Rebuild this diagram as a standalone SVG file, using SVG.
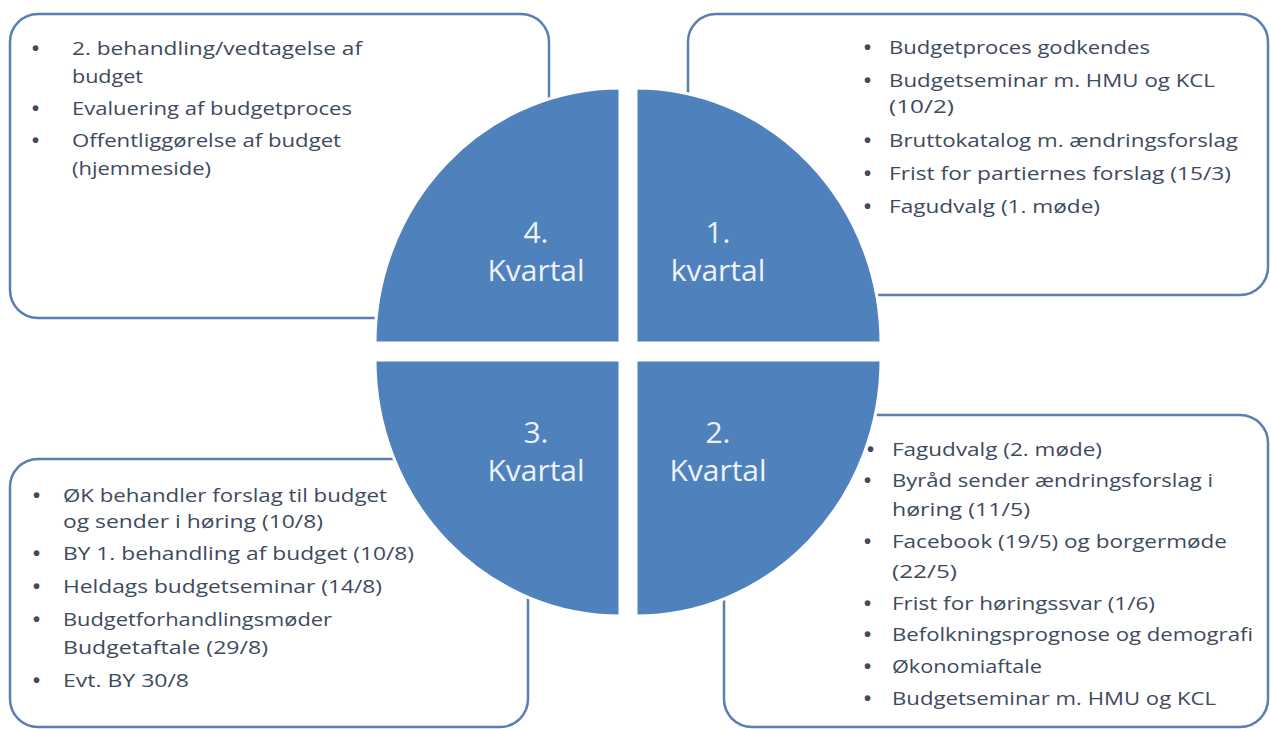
<svg xmlns="http://www.w3.org/2000/svg" width="1271" height="729" viewBox="0 0 1271 729">
<style>
.box{fill:#ffffff;stroke:#5a7db3;stroke-width:2.5}
.q{fill:#4f81bd;stroke:#ffffff;stroke-width:3}
.t{font-family:"Open Sans","Liberation Sans",sans-serif;font-size:19px;fill:#3e4a5e}
.b{font-family:"Liberation Sans",sans-serif;font-size:20px;font-weight:bold;fill:#3e4a5e}
.ql{font-family:"Open Sans","Liberation Sans",sans-serif;font-size:30px;fill:#eef3fa;text-anchor:middle}
</style>
<rect width="1271" height="729" fill="#ffffff"/>
<g id="box-q4">
<rect class="box" x="10" y="14" width="539" height="304" rx="28"/>
<text class="b" x="32" y="55">•</text>
<text class="b" x="32" y="115">•</text>
<text class="b" x="32" y="147">•</text>
<text class="t" x="72" y="55" textLength="290" lengthAdjust="spacingAndGlyphs">2. behandling/vedtagelse af</text>
<text class="t" x="72" y="83" textLength="71" lengthAdjust="spacingAndGlyphs">budget</text>
<text class="t" x="72" y="115" textLength="280" lengthAdjust="spacingAndGlyphs">Evaluering af budgetproces</text>
<text class="t" x="72" y="147" textLength="269" lengthAdjust="spacingAndGlyphs">Offentliggørelse af budget</text>
<text class="t" x="72" y="175" textLength="139" lengthAdjust="spacingAndGlyphs">(hjemmeside)</text>
</g>
<g id="box-q1">
<rect class="box" x="688" y="14" width="580" height="281" rx="28"/>
<text class="b" x="864" y="54">•</text>
<text class="b" x="864" y="87">•</text>
<text class="b" x="864" y="147">•</text>
<text class="b" x="864" y="180">•</text>
<text class="b" x="864" y="213">•</text>
<text class="t" x="889" y="54" textLength="261" lengthAdjust="spacingAndGlyphs">Budgetproces godkendes</text>
<text class="t" x="889" y="87" textLength="326" lengthAdjust="spacingAndGlyphs">Budgetseminar m. HMU og KCL</text>
<text class="t" x="889" y="113" textLength="65" lengthAdjust="spacingAndGlyphs">(10/2)</text>
<text class="t" x="889" y="147" textLength="349" lengthAdjust="spacingAndGlyphs">Bruttokatalog m. ændringsforslag</text>
<text class="t" x="889" y="180" textLength="342" lengthAdjust="spacingAndGlyphs">Frist for partiernes forslag (15/3)</text>
<text class="t" x="889" y="213" textLength="211" lengthAdjust="spacingAndGlyphs">Fagudvalg (1. møde)</text>
</g>
<g id="box-q3">
<rect class="box" x="10" y="459" width="518" height="268" rx="28"/>
<text class="b" x="33" y="502">•</text>
<text class="b" x="33" y="560">•</text>
<text class="b" x="33" y="593">•</text>
<text class="b" x="33" y="626">•</text>
<text class="b" x="33" y="687">•</text>
<text class="t" x="63" y="502" textLength="324" lengthAdjust="spacingAndGlyphs">ØK behandler forslag til budget</text>
<text class="t" x="63" y="528" textLength="260" lengthAdjust="spacingAndGlyphs">og sender i høring (10/8)</text>
<text class="t" x="63" y="560" textLength="351" lengthAdjust="spacingAndGlyphs">BY 1. behandling af budget (10/8)</text>
<text class="t" x="63" y="593" textLength="319" lengthAdjust="spacingAndGlyphs">Heldags budgetseminar (14/8)</text>
<text class="t" x="63" y="626" textLength="269" lengthAdjust="spacingAndGlyphs">Budgetforhandlingsmøder</text>
<text class="t" x="63" y="654" textLength="205" lengthAdjust="spacingAndGlyphs">Budgetaftale (29/8)</text>
<text class="t" x="63" y="687" textLength="126" lengthAdjust="spacingAndGlyphs">Evt. BY 30/8</text>
</g>
<g id="box-q2">
<rect class="box" x="724" y="415" width="544" height="312" rx="28"/>
<text class="b" x="867" y="456">•</text>
<text class="b" x="864" y="487">•</text>
<text class="b" x="864" y="548">•</text>
<text class="b" x="864" y="610">•</text>
<text class="b" x="864" y="641">•</text>
<text class="b" x="864" y="673">•</text>
<text class="b" x="864" y="705">•</text>
<text class="t" x="892" y="456" textLength="210" lengthAdjust="spacingAndGlyphs">Fagudvalg (2. møde)</text>
<text class="t" x="892" y="487" textLength="321" lengthAdjust="spacingAndGlyphs">Byråd sender ændringsforslag i</text>
<text class="t" x="892" y="516" textLength="138" lengthAdjust="spacingAndGlyphs">høring (11/5)</text>
<text class="t" x="892" y="548" textLength="335" lengthAdjust="spacingAndGlyphs">Facebook (19/5) og borgermøde</text>
<text class="t" x="892" y="578" textLength="65" lengthAdjust="spacingAndGlyphs">(22/5)</text>
<text class="t" x="892" y="610" textLength="263" lengthAdjust="spacingAndGlyphs">Frist for høringssvar (1/6)</text>
<text class="t" x="892" y="641" textLength="361" lengthAdjust="spacingAndGlyphs">Befolkningsprognose og demografi</text>
<text class="t" x="892" y="673" textLength="150" lengthAdjust="spacingAndGlyphs">Økonomiaftale</text>
<text class="t" x="892" y="705" textLength="324" lengthAdjust="spacingAndGlyphs">Budgetseminar m. HMU og KCL</text>
</g>
<g id="connectors"></g>
<g id="quadrant-4">
<path class="q" d="M620,343 L375,343 A245,255 0 0 1 620,88 Z"/>
<text class="ql" x="536" y="243">4.</text>
<text class="ql" x="536" y="281">Kvartal</text>
</g>
<g id="quadrant-1">
<path class="q" d="M636,343 L636,88 A245,255 0 0 1 881,343 Z"/>
<text class="ql" x="718" y="243">1.</text>
<text class="ql" x="718" y="281">kvartal</text>
</g>
<g id="quadrant-2">
<path class="q" d="M636,360 L881,360 A245,256 0 0 1 636,616 Z"/>
<text class="ql" x="718" y="443">2.</text>
<text class="ql" x="718" y="481">Kvartal</text>
</g>
<g id="quadrant-3">
<path class="q" d="M620,360 L620,616 A245,256 0 0 1 375,360 Z"/>
<text class="ql" x="536" y="443">3.</text>
<text class="ql" x="536" y="481">Kvartal</text>
</g>
</svg>
